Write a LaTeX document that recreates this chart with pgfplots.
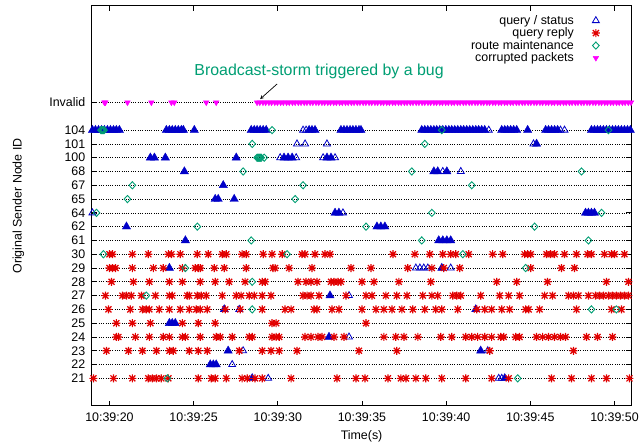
\documentclass[border=0pt]{standalone}
\usepackage{pgfplots}
\pgfplotsset{compat=1.18}
\usepackage{fontspec}
\setmainfont{Liberation Sans}

\definecolor{gpblue}{RGB}{0,0,200}
\definecolor{gpred}{RGB}{225,0,0}
\definecolor{gpgreen}{RGB}{0,158,115}
\definecolor{gpmag}{RGB}{255,0,255}

% gnuplot style "*" point: plus and cross on top of each other
\pgfdeclareplotmark{gpstar}{%
  \pgfpathmoveto{\pgfqpoint{-\pgfplotmarksize}{0pt}}%
  \pgfpathlineto{\pgfqpoint{\pgfplotmarksize}{0pt}}%
  \pgfpathmoveto{\pgfqpoint{0pt}{-\pgfplotmarksize}}%
  \pgfpathlineto{\pgfqpoint{0pt}{\pgfplotmarksize}}%
  \pgfpathmoveto{\pgfqpoint{-0.75\pgfplotmarksize}{-0.75\pgfplotmarksize}}%
  \pgfpathlineto{\pgfqpoint{0.75\pgfplotmarksize}{0.75\pgfplotmarksize}}%
  \pgfpathmoveto{\pgfqpoint{-0.75\pgfplotmarksize}{0.75\pgfplotmarksize}}%
  \pgfpathlineto{\pgfqpoint{0.75\pgfplotmarksize}{-0.75\pgfplotmarksize}}%
  \pgfusepathqstroke}

\begin{document}
\begin{tikzpicture}[font=\fontsize{12.5}{14}\selectfont]
\begin{axis}[
    scale only axis,
    width=541bp, height=401bp,
    xmin=18.95, xmax=51,
    ymin=-2, ymax=27,
    xtick={20,25,30,35,40,45,50},
    xticklabels={10:39:20,10:39:25,10:39:30,10:39:35,10:39:40,10:39:45,10:39:50},
    ytick={0,1,2,3,4,5,6,7,8,9,10,11,12,13,14,15,16,17,18,20},
    yticklabels={21,22,23,24,25,26,27,28,29,30,61,62,64,65,67,68,100,101,104,Invalid},
    tick align=inside,
    tick pos=both,
    major tick length=5bp,
    tick style={black, line width=0.8bp},
    axis line style={black, line width=1bp},
    ymajorgrids=true,
    grid style={black, line width=0.7bp, dash pattern=on 0.7bp off 1.6bp},
    xlabel={Time(s)},
    ylabel={Original Sender Node ID},
    xlabel style={at={(axis description cs:0.5,-0.075)}, anchor=center},
    ylabel style={at={(axis description cs:-0.136,0.5)}, anchor=center},
    xticklabel style={yshift=-3bp},
    yticklabel style={xshift=-3bp},
    only marks,
    legend cell align=right,
    legend plot pos=right,
    legend style={at={(0.942,0.982)}, anchor=north east, draw=none, fill=none,
        inner sep=0pt, row sep=-2bp, font=\fontsize{12.5}{13}\selectfont,
        /tikz/every odd column/.append style={column sep=16bp}},
]

% query / status, clustered (drawn filled)
\addplot[forget plot, mark=triangle*, mark size=4.8bp, color=gpblue, fill=gpblue] coordinates {
  (18.99,18) (19.17,18) (19.35,18) (19.53,18) (19.70,18) (19.88,18) (20.06,18) (20.24,18) (20.41,18) (20.59,18)
  (23.38,18) (23.56,18) (23.73,18) (23.91,18) (24.09,18) (24.27,18) (24.39,18) (25.04,18)
  (28.42,18) (28.60,18) (28.77,18) (28.95,18) (29.13,18) (29.31,18)
  (31.86,18) (32.03,18) (32.21,18)
  (33.75,18) (33.93,18) (34.11,18) (34.29,18) (34.46,18) (34.64,18) (34.82,18) (34.94,18)
  (38.55,18) (38.73,18) (38.91,18) (39.09,18) (39.27,18) (39.44,18) (39.62,18) (39.80,18) (39.98,18) (40.16,18)
  (40.33,18) (40.51,18) (40.69,18) (40.87,18) (41.04,18) (41.22,18) (41.40,18) (41.58,18) (41.76,18) (41.93,18)
  (42.11,18) (42.29,18)
  (43.30,18) (43.48,18) (43.65,18) (43.83,18) (44.01,18) (44.19,18) (44.84,18)
  (45.91,18) (46.08,18) (46.26,18) (46.44,18) (46.62,18)
  (48.63,18) (48.81,18) (48.99,18) (49.16,18) (49.34,18) (49.52,18) (49.70,18) (49.88,18) (50.06,18) (50.23,18)
  (50.41,18) (50.59,18) (50.77,18) (50.94,18)
  (45.37,17)
  (22.43,16) (22.67,16) (23.32,16) (27.53,16) (30.37,16) (30.61,16) (30.85,16) (32.92,16) (33.16,16)
  (24.45,15) (39.27,15) (39.50,15) (40.04,15)
  (26.76,14)
  (26.28,13) (26.46,13) (27.41,13)
  (33.40,12) (33.63,12) (48.28,12) (48.45,12) (48.63,12) (48.81,12)
  (21.01,11) (35.89,11) (36.12,11) (36.36,11)
  (24.51,10) (39.56,10) (39.80,10) (40.04,10) (40.27,10)
  (23.56,8) (39.74,8)
  (33.10,6)
  (26.82,5) (41.76,5)
  (23.56,4) (23.73,4) (23.91,4)
  (33.04,3)
  (27.05,2) (42.05,2)
  (25.99,1) (26.17,1) (26.34,1)
  (28.48,0) (43.48,0)
};

% query / status, single packets
\addplot[mark=triangle, mark size=4bp, color=gpblue, line width=0.8bp] coordinates {
  (31.50,18) (31.68,18) (42.53,18) (46.79,18) (47.03,18)
  (31.14,17) (31.62,17) (32.92,17) (45.19,17)
  (30.14,16) (31.09,16) (32.69,16) (33.40,16)
  (39.80,15) (40.87,15)
  (18.99,12) (33.87,12)
  (38.20,8) (38.44,8) (38.67,8) (38.91,8) (40.27,8)
  (34.23,6)
  (27.71,5)
  (34.23,3)
  (27.94,2) (42.47,2)
  (27.29,1)
  (29.43,0) (43.12,0) (43.30,0)
};
\addlegendentry{query / status}

% query reply
\addplot[mark=gpstar, mark size=4bp, color=gpred, line width=1.2bp] coordinates {
  (20.00,9) (20.18,9) (21.36,9) (22.31,9) (23.50,9) (23.68,9) (24.21,9) (25.22,9) (25.87,9) (26.70,9)
  (26.94,9) (27.88,9) (28.12,9) (29.13,9) (29.66,9) (30.26,9) (31.44,9) (31.62,9) (32.21,9) (32.80,9)
  (33.10,9) (36.84,9) (38.14,9) (39.03,9) (39.80,9) (40.27,9) (40.57,9) (41.34,9) (42.76,9) (43.36,9)
  (44.66,9) (44.84,9) (45.02,9) (45.96,9) (46.20,9) (46.44,9) (47.03,9) (47.74,9) (48.40,9) (48.63,9)
  (49.40,9) (49.82,9) (50.00,9) (50.59,9)
  (20.00,8) (20.18,8) (20.36,8) (21.36,8) (22.61,8) (23.20,8) (24.33,8) (25.10,8) (25.28,8) (25.39,8)
  (26.23,8) (26.82,8) (28.12,8) (29.72,8) (29.84,8) (30.67,8) (32.03,8) (34.35,8) (35.53,8) (37.72,8)
  (39.15,8) (39.86,8) (40.81,8) (45.02,8) (46.85,8) (47.62,8)
  (20.12,7) (21.42,7) (22.37,7) (23.56,7) (24.33,7) (25.39,7) (26.28,7) (27.11,7) (28.06,7) (29.07,7)
  (29.25,7) (31.20,7) (31.68,7) (31.97,7) (32.33,7) (33.16,7) (33.34,7) (33.57,7) (33.75,7) (35.00,7)
  (35.71,7) (37.19,7) (39.09,7) (43.00,7) (44.19,7) (46.02,7) (49.52,7) (50.83,7)
  (19.76,6) (20.77,6) (21.01,6) (21.30,6) (21.90,6) (22.73,6) (23.56,6) (23.73,6) (24.62,6) (24.74,6)
  (25.22,6) (25.45,6) (25.75,6) (26.70,6) (27.53,6) (27.82,6) (28.30,6) (28.60,6) (29.07,6) (29.60,6)
  (31.50,6) (31.74,6) (31.97,6) (32.45,6) (34.05,6) (35.24,6) (35.59,6) (36.42,6) (37.07,6) (37.67,6)
  (38.61,6) (39.15,6) (39.50,6) (40.39,6) (40.63,6) (40.87,6) (42.05,6) (43.18,6) (43.71,6) (44.36,6)
  (45.85,6) (46.32,6) (47.27,6) (47.56,6) (47.86,6) (48.45,6) (48.87,6) (49.11,6) (49.34,6) (49.64,6)
  (49.88,6) (50.11,6) (50.35,6) (50.59,6) (50.83,6)
  (19.94,5) (21.24,5) (21.96,5) (22.19,5) (22.37,5) (22.96,5) (23.56,5) (24.21,5) (24.74,5) (25.16,5)
  (25.39,5) (25.81,5) (26.88,5) (27.77,5) (29.07,5) (30.43,5) (30.79,5) (32.15,5) (32.33,5) (33.22,5)
  (33.63,5) (35.00,5) (35.83,5) (36.30,5) (36.78,5) (37.37,5) (38.02,5) (38.73,5) (39.38,5) (39.74,5)
  (40.69,5) (41.82,5) (42.29,5) (42.70,5) (43.30,5) (43.77,5) (44.72,5) (44.90,5) (45.55,5) (47.74,5)
  (49.82,5) (50.41,5)
  (20.41,4) (21.36,4) (22.43,4) (24.33,4) (25.28,4) (26.28,4) (29.66,4) (29.90,4) (35.24,4)
  (20.41,3) (20.53,3) (21.54,3) (22.37,3) (23.20,3) (23.56,3) (24.33,3) (24.51,3) (25.39,3) (26.34,3)
  (26.58,3) (27.29,3) (28.30,3) (28.48,3) (29.66,3) (29.90,3) (30.08,3) (31.62,3) (31.97,3) (32.39,3)
  (32.63,3) (33.34,3) (33.93,3) (36.30,3) (37.01,3) (37.49,3) (38.32,3) (39.68,3) (40.33,3) (41.16,3)
  (41.52,3) (41.87,3) (42.29,3) (42.70,3) (43.24,3) (43.42,3) (44.13,3) (44.36,3) (45.37,3) (45.73,3)
  (46.08,3) (46.44,3) (46.79,3) (47.09,3) (48.34,3) (48.99,3) (49.88,3)
  (19.82,2) (21.13,2) (21.96,2) (22.79,2) (23.56,2) (23.79,2) (24.74,2) (25.28,2) (25.81,2) (27.71,2)
  (29.07,2) (29.60,2) (30.08,2) (31.14,2) (34.82,2) (37.07,2) (42.59,2) (47.56,2)
  (19.05,0) (20.24,0) (21.36,0) (22.31,0) (22.55,0) (22.79,0) (23.08,0) (23.50,0) (25.28,0) (26.05,0)
  (26.28,0) (26.94,0) (27.88,0) (28.18,0) (28.65,0) (29.07,0) (30.79,0) (33.52,0) (34.64,0) (35.18,0)
  (36.54,0) (37.31,0) (37.61,0) (38.20,0) (38.79,0) (39.74,0) (41.16,0) (42.70,0) (43.71,0) (46.26,0)
  (47.45,0) (48.63,0) (49.52,0) (50.89,0)
};
\addlegendentry{query reply}

% route maintenance
\addplot[mark=diamond, mark size=3.6bp, mark options={xscale=1.25}, color=gpgreen, line width=0.9bp] coordinates {
  (19.50,18) (19.56,18) (19.62,18) (19.68,18) (29.66,18) (39.74,18) (49.64,18)
  (28.48,17) (38.73,17)
  (28.77,16) (28.83,16) (28.89,16) (28.95,16) (29.01,16) (29.19,16)
  (27.94,15) (37.96,15) (48.04,15)
  (21.36,14) (31.50,14) (41.52,14)
  (21.07,13) (31.03,13)
  (19.23,12) (39.15,12) (49.23,12)
  (25.22,11) (35.24,11) (45.25,11)
  (28.42,10) (38.55,10) (48.45,10)
  (19.64,9) (30.55,9) (40.99,9)
  (24.51,8) (44.72,8)
  (28.48,7)
  (22.19,6)
  (28.48,5) (48.63,5) (50.11,5)
  (23.44,0) (44.25,0)
};
\addlegendentry{route maintenance}

% corrupted packets
\addplot[mark=triangle*, mark size=3.2bp, mark options={rotate=180}, color=gpmag, fill=gpmag] coordinates {
  (19.70,20) (19.76,20) (21.07,20) (22.49,20) (23.68,20) (23.85,20) (25.75,20) (26.34,20)
  (28.77,20) (28.93,20) (29.12,20) (29.28,20) (29.47,20) (29.63,20) (29.82,20) (29.98,20) (30.17,20) (30.33,20)
  (30.52,20) (30.68,20) (30.87,20) (31.03,20) (31.22,20) (31.38,20) (31.57,20) (31.73,20) (31.92,20) (32.08,20)
  (32.27,20) (32.43,20) (32.62,20) (32.78,20) (32.97,20) (33.13,20) (33.32,20) (33.48,20) (33.67,20) (33.83,20)
  (34.02,20) (34.18,20) (34.37,20) (34.53,20) (34.72,20) (34.88,20) (35.07,20) (35.23,20) (35.42,20) (35.58,20)
  (35.77,20) (35.93,20) (36.12,20) (36.28,20) (36.47,20) (36.63,20) (36.82,20) (36.98,20) (37.17,20) (37.33,20)
  (37.52,20) (37.68,20) (37.87,20) (38.03,20) (38.22,20) (38.38,20) (38.57,20) (38.73,20) (38.92,20) (39.08,20)
  (39.27,20) (39.43,20) (39.62,20) (39.78,20) (39.97,20) (40.13,20) (40.32,20) (40.48,20) (40.67,20) (40.83,20)
  (41.02,20) (41.18,20) (41.37,20) (41.53,20) (41.72,20) (41.88,20) (42.07,20) (42.23,20) (42.42,20) (42.58,20)
  (42.77,20) (42.93,20) (43.12,20) (43.28,20) (43.47,20) (43.63,20) (43.82,20) (43.98,20) (44.17,20) (44.33,20)
  (44.52,20) (44.68,20) (44.87,20) (45.03,20) (45.22,20) (45.38,20) (45.57,20) (45.73,20) (45.92,20) (46.08,20)
  (46.27,20) (46.43,20) (46.62,20) (46.78,20) (46.97,20) (47.13,20) (47.32,20) (47.48,20) (47.67,20) (47.83,20)
  (48.02,20) (48.18,20) (48.37,20) (48.53,20) (48.72,20) (48.88,20) (49.07,20) (49.23,20) (49.42,20) (49.58,20)
  (49.77,20) (49.93,20) (50.12,20) (50.28,20) (50.47,20) (50.63,20) (50.82,20) (50.98,20)
};
\addlegendentry{corrupted packets}

\node[text=gpgreen, font=\fontsize{16}{16}\selectfont] at (axis cs:32.45,22.25) {Broadcast-storm triggered by a bug};
\draw[-stealth, line width=0.7bp] (axis cs:29.96,21.35) -- (axis cs:28.95,20.25);

% page extents of the reference (642 x 444 around a 541 x 401 plot box)
\coordinate (bbsw) at (axis description cs:-0.1701,-0.0923);
\coordinate (bbne) at (axis description cs:1.0166,1.015);
\end{axis}
\path (bbsw) rectangle (bbne);
\end{tikzpicture}
\end{document}
